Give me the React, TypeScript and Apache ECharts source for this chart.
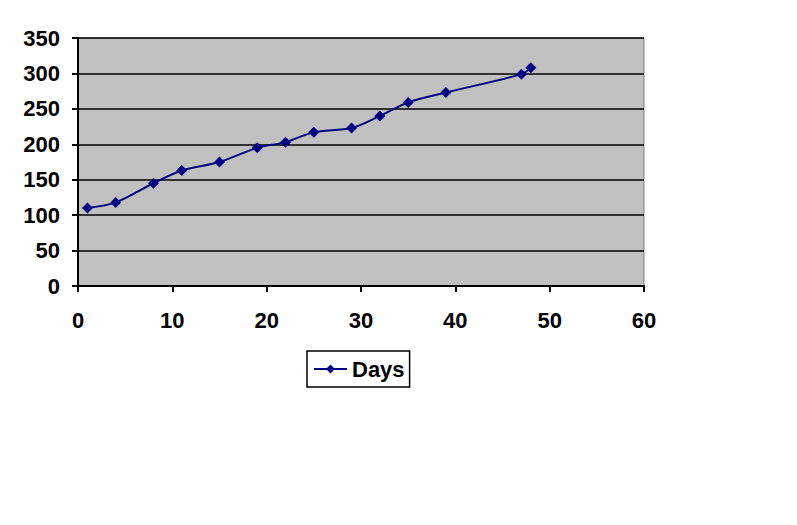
import React, { useEffect, useRef } from "react";
import * as echarts from "echarts";

const seriesName = "Days";
const xValues = [1, 4, 8, 11, 15, 19, 22, 25, 29, 32, 35, 39, 47, 48];
const yValues = [110, 118, 145, 163, 175, 195, 203, 217, 223, 240, 259, 273, 299, 308];

const font = "Arial, 'Liberation Sans', sans-serif";

export default function App() {
  const ref = useRef<HTMLDivElement>(null);
  useEffect(() => {
    if (!ref.current) return;
    const chart = echarts.init(ref.current, undefined, { renderer: "svg" });
    chart.setOption({
      animation: false,
      backgroundColor: "#ffffff",
      grid: {
        left: 78,
        right: 153,
        top: 38,
        bottom: 239,
        show: true,
        backgroundColor: "#c0c0c0",
        borderColor: "#808080",
        borderWidth: 1,
      },
      legend: {
        data: [seriesName],
        left: 307,
        top: 351,
        orient: "horizontal",
        itemWidth: 33,
        itemHeight: 11,
        itemGap: 6,
        padding: [7, 5, 7, 6],
        borderColor: "#000000",
        borderWidth: 1.5,
        backgroundColor: "#ffffff",
        textStyle: { fontFamily: font, fontWeight: "bold", fontSize: 22, color: "#000" },
      },
      xAxis: {
        type: "value",
        min: 0,
        max: 60,
        interval: 10,
        axisLine: { show: true, onZero: false, lineStyle: { color: "#000", width: 2 } },
        axisTick: { show: true, length: 6, lineStyle: { color: "#000", width: 2 } },
        splitLine: { show: false },
        axisLabel: { margin: 23, fontFamily: font, fontWeight: "bold", fontSize: 22, color: "#000" },
      },
      yAxis: {
        type: "value",
        min: 0,
        max: 350,
        interval: 50,
        axisLine: { show: true, onZero: false, lineStyle: { color: "#000", width: 2 } },
        axisTick: { show: true, length: 6, lineStyle: { color: "#000", width: 2 } },
        splitLine: { show: true, lineStyle: { color: "#000", width: 1.5 } },
        axisLabel: { margin: 18, fontFamily: font, fontWeight: "bold", fontSize: 22, color: "#000" },
      },
      series: [
        {
          name: seriesName,
          type: "line",
          data: xValues.map((x, i) => [x, yValues[i]]),
          smooth: 0.3,
          symbol: "diamond",
          symbolSize: 11,
          lineStyle: { color: "#000080", width: 2 },
          itemStyle: { color: "#000080" },
        },
      ],
    });
    return () => chart.dispose();
  }, []);
  return (
    <div
      ref={ref}
      style={{ position: "fixed", left: 0, top: 0, width: 797, height: 525 }}
    />
  );
}
